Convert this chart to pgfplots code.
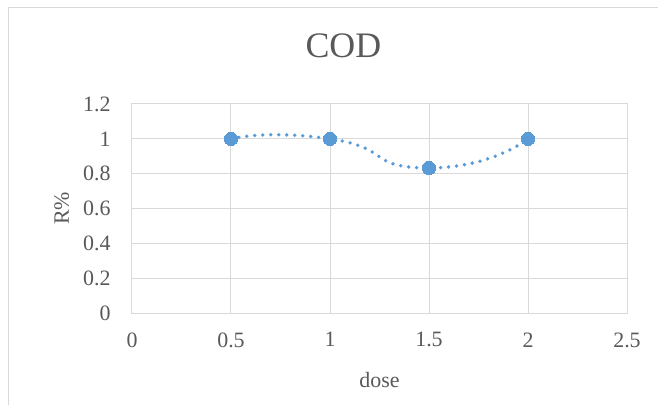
\documentclass[border=0pt]{standalone}
\usepackage{pgfplots}
\pgfplotsset{compat=1.18}
\usepackage{fontspec}
\setmainfont{Liberation Serif}
\definecolor{gridgray}{HTML}{D9D9D9}
\definecolor{txtgray}{HTML}{595959}
\definecolor{exblue}{HTML}{5B9BD5}
\begin{document}
\begin{tikzpicture}
\path[use as bounding box] (-132bp,-92bp) rectangle (526bp,313bp);
\draw[gridgray, line width=1bp] (-123bp,-100bp) -- (-123bp,305bp) -- (540bp,305bp);
\begin{axis}[
  at={(0,0)}, anchor=south west,
  scale only axis, width=495bp, height=209bp,
  xmin=0, xmax=2.5, ymin=0, ymax=1.2,
  xtick={0,0.5,...,2.5}, ytick={0,0.2,...,1.2},
  xticklabels={0,0.5,1,1.5,2,2.5},
  yticklabels={0,0.2,0.4,0.6,0.8,1,1.2},
  /pgf/number format/assume math mode=true,
  grid=major,
  grid style={gridgray, line width=1bp},
  axis line style={gridgray, line width=1bp},
  major tick length=0pt,
  tick label style={font=\fontsize{22}{26}\selectfont, text=txtgray},
  xticklabel style={anchor=north, yshift=-16bp},
  yticklabel style={anchor=east, xshift=-18bp},
  title={COD},
  title style={font=\fontsize{36}{42}\selectfont, text=txtgray, anchor=base, at={(0.427,1)}, yshift=41bp},
  xlabel={dose}, ylabel={R\%},
  label style={font=\fontsize{22}{26}\selectfont, text=txtgray},
  xlabel style={anchor=base, at={(0.5,0)}, yshift=-74bp},
  ylabel style={anchor=base, at={(0,0.5)}, yshift=63bp},
  clip=false,
]
\addplot[exblue, line width=3.8bp, dash pattern=on 0bp off 8bp, line cap=round, smooth, tension=1.15,
  mark=*, mark size=6.6bp, mark options={solid, fill=exblue, draw=exblue, line width=0pt}]
  coordinates {(0.5,1) (1,1) (1.5,0.833) (2,1)};
\end{axis}
\end{tikzpicture}
\end{document}
